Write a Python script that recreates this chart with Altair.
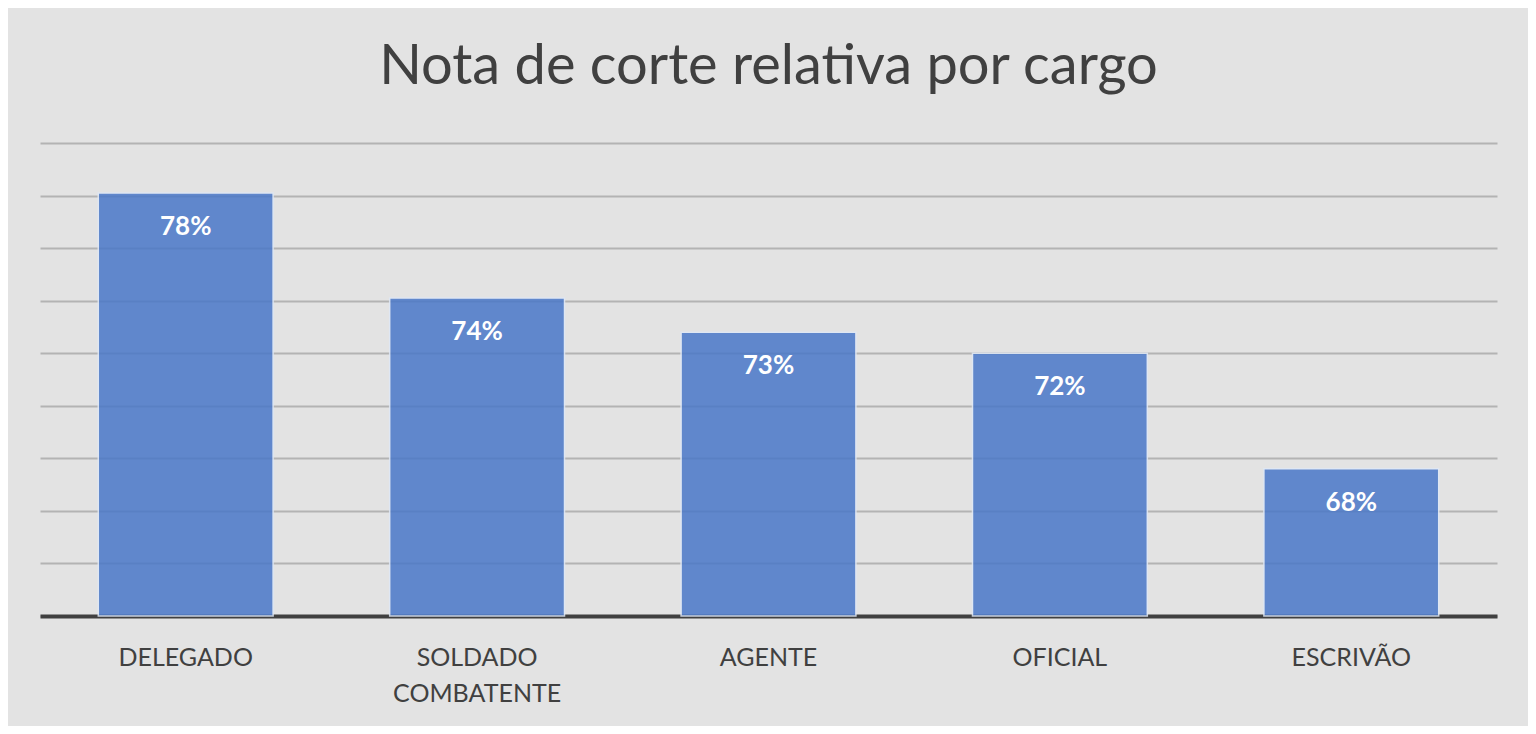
import altair as alt
import pandas as pd

cargos = ["DELEGADO", "SOLDADO COMBATENTE", "AGENTE", "OFICIAL", "ESCRIVÃO"]
notas = [0.781, 0.741, 0.728, 0.720, 0.676]
rotulos = ["78%", "74%", "73%", "72%", "68%"]
base = 0.62
grade = [0.62, 0.64, 0.66, 0.68, 0.70, 0.72, 0.74, 0.76, 0.78, 0.80]

df = pd.DataFrame({"cargo": cargos, "nota": notas, "rotulo": rotulos})

FONT = "Lato"

x = alt.X(
    "cargo:N",
    sort=cargos,
    title=None,
    scale=alt.Scale(paddingInner=0.4, paddingOuter=0.2),
    axis=alt.Axis(
        labelAngle=0,
        labelFont=FONT,
        labelFontSize=25,
        labelColor="#404040",
        labelPadding=41,
        labelLineHeight=36,
        labelBaseline="middle",
        labelExpr="datum.value == 'SOLDADO COMBATENTE' ? ['SOLDADO', 'COMBATENTE'] : datum.value",
        ticks=False,
        domainColor="#404040",
        domainWidth=4,
        grid=False,
    ),
)

y = alt.Y(
    "nota:Q",
    title=None,
    scale=alt.Scale(domain=[0.62, 0.80], zero=False, nice=False),
    axis=alt.Axis(
        values=grade,
        labels=False,
        ticks=False,
        domain=False,
        grid=True,
        gridColor="#b3b3b3",
        gridWidth=2,
    ),
)

bars = alt.Chart(df).mark_bar(
    color="#4a78c8",
    opacity=0.85,
    stroke="#dfe8f6",
    strokeWidth=1.5,
).encode(x=x, y=y, y2=alt.datum(base))

labels = alt.Chart(df).mark_text(
    font=FONT,
    fontSize=26,
    fontWeight="bold",
    color="white",
    baseline="middle",
    dy=34,
).encode(x=alt.X("cargo:N", sort=cargos), y="nota:Q", text="rotulo:N")

chart = (
    alt.layer(bars, labels)
    .properties(
        width=1457,
        height=473,
        title=alt.Title(
            "Nota de corte relativa por cargo",
            font=FONT,
            fontSize=56,
            fontWeight="normal",
            color="#404040",
            anchor="middle",
            baseline="alphabetic",
            offset=3,
        ),
        autosize=alt.AutoSizeParams(type="none"),
        padding={"left": 32, "top": 135, "right": 31, "bottom": 110},
        background="#e3e3e3",
    )
    .configure_view(stroke=None)
)

chart.save("out.html", embed_options={"renderer": "svg", "actions": False})
